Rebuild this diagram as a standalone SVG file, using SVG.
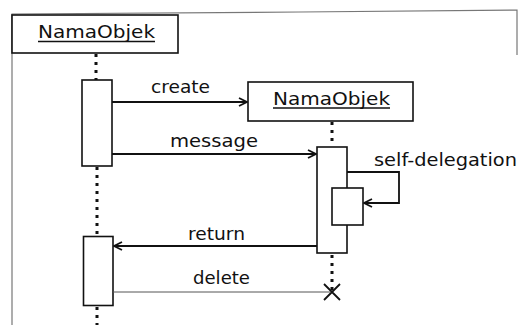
<svg xmlns="http://www.w3.org/2000/svg" width="518" height="325" viewBox="0 0 518 325">
  <defs>
    <marker id="open" viewBox="0 0 10 10" refX="9" refY="5" markerWidth="10" markerHeight="10" markerUnits="userSpaceOnUse" orient="auto">
      <path d="M1,1 L9,5 L1,9" fill="none" stroke="#111" stroke-width="1.8"/>
    </marker>
  </defs>
  <style>
    text { font-family: "DejaVu Sans", "Liberation Sans", sans-serif; font-size: 18.5px; fill: #111; }
    .box { fill: #fff; stroke: #111; stroke-width: 1.6; }
    .life { stroke: #111; stroke-width: 3; stroke-dasharray: 3 5; fill: none; }
    .msg { stroke: #111; stroke-width: 1.8; fill: none; }
    .thin { stroke: #555; stroke-width: 1; fill: none; }
    .frame { stroke: #777; stroke-width: 1.2; fill: none; }
    .ul { stroke: #111; stroke-width: 1.3; }
  </style>

  <!-- frame -->
  <g id="frame">
    <path class="frame" d="M12,325 L12,14 L300,12 L517,10 L517,55"/>
  </g>

  <!-- lifelines -->
  <g id="lifelines">
    <line class="life" x1="96" y1="54" x2="96" y2="80"/>
    <line class="life" x1="97" y1="167" x2="97" y2="235"/>
    <line class="life" x1="97" y1="307" x2="97" y2="325"/>
    <line class="life" x1="332" y1="122" x2="332" y2="146"/>
    <line class="life" x1="332" y1="255" x2="332" y2="290"/>
  </g>

  <g id="obj1">
    <rect class="box" x="12" y="15" width="166" height="38"/>
    <text x="38" y="38" textLength="117" lengthAdjust="spacingAndGlyphs">NamaObjek</text>
    <line class="ul" x1="38" y1="41.5" x2="155" y2="41.5"/>
  </g>

  <g id="obj2">
    <rect class="box" x="248" y="82" width="165" height="39"/>
    <text x="273" y="105" textLength="117" lengthAdjust="spacingAndGlyphs">NamaObjek</text>
    <line class="ul" x1="273" y1="108" x2="390" y2="108"/>
  </g>

  <g id="act1">
    <rect class="box" x="82" y="80" width="30" height="86"/>
  </g>
  <g id="act2">
    <rect class="box" x="83.5" y="236.5" width="29.5" height="69"/>
  </g>
  <g id="act3">
    <rect class="box" x="317" y="147" width="30" height="106"/>
  </g>
  <g id="act4">
    <rect class="box" x="332" y="188" width="31" height="37"/>
  </g>

  <!-- messages -->
  <g id="connectors">
    <line class="msg" x1="112" y1="102" x2="247" y2="102" marker-end="url(#open)"/>
    <line class="msg" x1="112" y1="154" x2="316" y2="154" marker-end="url(#open)"/>
    <path class="msg" d="M347,172 L399,172 L399,203 L364,203" marker-end="url(#open)"/>
    <line class="msg" x1="317" y1="246" x2="114" y2="246" marker-end="url(#open)"/>
    <line class="thin" x1="113" y1="292" x2="330" y2="292"/>
    <path class="msg" d="M324,284 L340,300 M340,284 L324,300"/>
  </g>

  <g id="labels">
    <text x="151" y="93" textLength="59" lengthAdjust="spacingAndGlyphs">create</text>
    <text x="170" y="147" textLength="88" lengthAdjust="spacingAndGlyphs">message</text>
    <text x="374" y="166" textLength="143" lengthAdjust="spacingAndGlyphs">self-delegation</text>
    <text x="188" y="240" textLength="57" lengthAdjust="spacingAndGlyphs">return</text>
    <text x="193" y="284" textLength="57" lengthAdjust="spacingAndGlyphs">delete</text>
  </g>
</svg>
